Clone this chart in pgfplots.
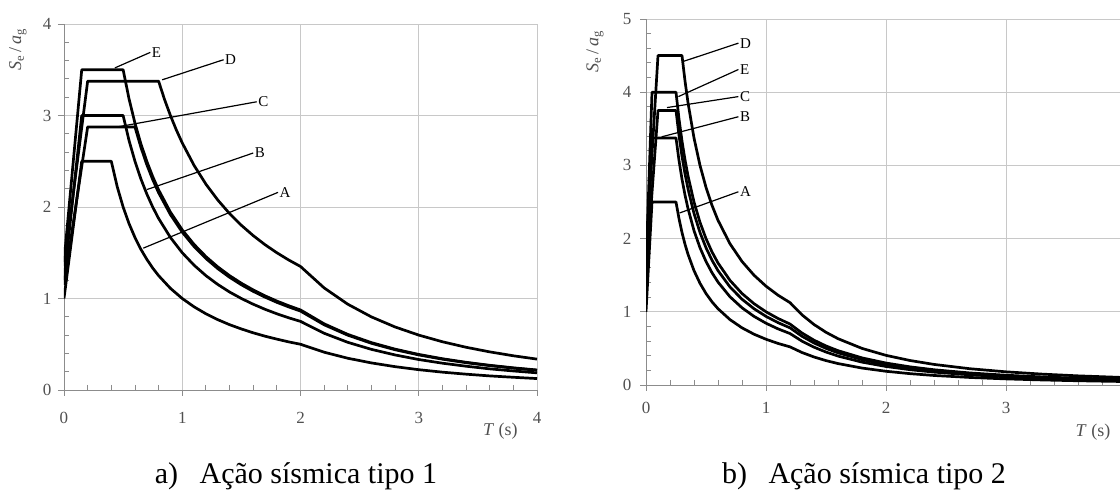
\documentclass[border=0pt]{standalone}
\usepackage{fontspec}
\setmainfont{Liberation Serif}
\usepackage{pgfplots}
\pgfplotsset{compat=1.18}

\definecolor{gridgray}{RGB}{200,200,200}
\definecolor{axgray}{RGB}{140,140,140}
\definecolor{txtgray}{RGB}{80,80,80}

\pgfplotsset{
  spec/.style={
    scale only axis,
    axis lines=left,
    axis line style={-, axgray, line width=0.9pt},
    grid=major,
    grid style={gridgray, line width=0.9pt},
    xmin=0, xmax=4, xtick={0,1,2,3,4},
    minor x tick num=4, minor y tick num=4,
    tick align=outside,
    major tick length=6pt, minor tick length=-5pt,
    tick style={axgray, line width=0.9pt},
    tick label style={font=\fontsize{17}{20}\selectfont, text=txtgray},
    /pgf/number format/assume math mode=true,
    clip mode=individual,
  },
  curve/.style={black, line width=2.7pt, line join=round},
}
\tikzset{lead/.style={black, line width=1.2pt}}
\newcommand{\lbl}{\fontsize{15}{17}\selectfont}
\newcommand{\axlbl}{\fontsize{18}{21}\selectfont}

\begin{document}
\begin{tikzpicture}
\useasboundingbox (0,0) rectangle (1120pt,490pt);

% ---- a) type 1 ----
\begin{axis}[spec, at={(64pt,100pt)}, anchor=south west,
  width=473pt, height=366pt, ymin=0, ymax=4, ytick={0,1,2,3,4},
  xticklabel style={yshift=-13pt}, yticklabel style={xshift=-3pt}]
% A
\addplot[curve] coordinates {
 (0,1) (0.15,2.5) (0.4,2.5) (0.45,2.222) (0.5,2.0) (0.55,1.818) (0.6,1.667)
 (0.65,1.538) (0.7,1.429) (0.75,1.333) (0.8,1.25) (0.9,1.111) (1.0,1.0)
 (1.1,0.909) (1.2,0.833) (1.3,0.769) (1.4,0.714) (1.5,0.667) (1.6,0.625)
 (1.7,0.588) (1.8,0.556) (1.9,0.526) (2.0,0.5) (2.2,0.413) (2.4,0.347)
 (2.6,0.296) (2.8,0.255) (3.0,0.222) (3.2,0.195) (3.4,0.173) (3.6,0.154)
 (3.8,0.139) (4.0,0.125)};
% B
\addplot[curve] coordinates {
 (0,1.2) (0.15,3.0) (0.5,3.0) (0.55,2.727) (0.6,2.5) (0.65,2.308) (0.7,2.143)
 (0.75,2.0) (0.8,1.875) (0.9,1.667) (1.0,1.5) (1.1,1.364) (1.2,1.25)
 (1.3,1.154) (1.4,1.071) (1.5,1.0) (1.6,0.9375) (1.7,0.882) (1.8,0.833)
 (1.9,0.789) (2.0,0.75) (2.2,0.620) (2.4,0.521) (2.6,0.444) (2.8,0.383)
 (3.0,0.333) (3.2,0.293) (3.4,0.260) (3.6,0.231) (3.8,0.208) (4.0,0.1875)};
% C
\addplot[curve] coordinates {
 (0,1.15) (0.2,2.875) (0.6,2.875) (0.65,2.654) (0.7,2.464) (0.75,2.3)
 (0.8,2.156) (0.9,1.917) (1.0,1.725) (1.1,1.568) (1.2,1.4375) (1.3,1.327)
 (1.4,1.232) (1.5,1.15) (1.6,1.078) (1.7,1.015) (1.8,0.958) (1.9,0.908)
 (2.0,0.8625) (2.2,0.7128) (2.4,0.599) (2.6,0.5104) (2.8,0.440) (3.0,0.3833)
 (3.2,0.3369) (3.4,0.2985) (3.6,0.2662) (3.8,0.2389) (4.0,0.2156)};
% D
\addplot[curve] coordinates {
 (0,1.35) (0.2,3.375) (0.8,3.375) (0.85,3.176) (0.9,3.0) (0.95,2.842)
 (1.0,2.7) (1.1,2.4545) (1.2,2.25) (1.3,2.077) (1.4,1.9286) (1.5,1.8)
 (1.6,1.6875) (1.7,1.588) (1.8,1.5) (1.9,1.421) (2.0,1.35) (2.2,1.1157)
 (2.4,0.9375) (2.6,0.7988) (2.8,0.6888) (3.0,0.6) (3.2,0.5273) (3.4,0.4671)
 (3.6,0.4167) (3.8,0.3740) (4.0,0.3375)};
% E
\addplot[curve] coordinates {
 (0,1.4) (0.15,3.5) (0.5,3.5) (0.55,3.182) (0.6,2.917) (0.65,2.692) (0.7,2.5)
 (0.75,2.333) (0.8,2.1875) (0.9,1.944) (1.0,1.75) (1.1,1.591) (1.2,1.458)
 (1.3,1.346) (1.4,1.25) (1.5,1.1667) (1.6,1.094) (1.7,1.029) (1.8,0.972)
 (1.9,0.921) (2.0,0.875) (2.2,0.7231) (2.4,0.6076) (2.6,0.5178) (2.8,0.4464)
 (3.0,0.3889) (3.2,0.3418) (3.4,0.3028) (3.6,0.2701) (3.8,0.2424) (4.0,0.21875)};

\draw[lead] (axis cs:0.43,3.52) -- (axis cs:0.73,3.69) node[right=-1pt, inner sep=2pt] {\lbl E};
\draw[lead] (axis cs:0.83,3.39) -- (axis cs:1.35,3.61) node[right=-1pt, inner sep=2pt] {\lbl D};
\draw[lead] (axis cs:0.43,2.87) -- (axis cs:1.63,3.15) node[right=-1pt, inner sep=2pt] {\lbl C};
\draw[lead] (axis cs:0.70,2.19) -- (axis cs:1.60,2.59) node[right=-1pt, inner sep=2pt] {\lbl B};
\draw[lead] (axis cs:0.67,1.55) -- (axis cs:1.81,2.16) node[right=-1pt, inner sep=2pt] {\lbl A};

\node[rotate=90, text=txtgray] at (axis cs:-0.39,3.72) {\axlbl\textit{S}\textsubscript{e}\,/\,\textit{a}\textsubscript{g}};
\node[text=txtgray] at (axis cs:3.69,-0.45) {\axlbl\textit{T}\ (s)};
\end{axis}

% ---- b) type 2 ----
\begin{axis}[spec, at={(646pt,105pt)}, anchor=south west,
  width=480pt, height=366pt, ymin=0, ymax=5, ytick={0,1,2,3,4,5},
  xticklabels={0,1,2,3,},
  xticklabel style={yshift=-8pt}, yticklabel style={xshift=-5pt}]
% A
\addplot[curve] coordinates {
 (0,1) (0.05,2.5) (0.25,2.5) (0.275,2.273) (0.3,2.083) (0.325,1.923)
 (0.35,1.786) (0.4,1.5625) (0.45,1.389) (0.5,1.25) (0.55,1.136) (0.6,1.042)
 (0.7,0.893) (0.8,0.781) (0.9,0.694) (1.0,0.625) (1.1,0.568) (1.2,0.521)
 (1.3,0.4438) (1.4,0.3827) (1.5,0.3333) (1.6,0.2930) (1.8,0.2315) (2.0,0.1875)
 (2.2,0.1550) (2.4,0.1302) (2.7,0.1029) (3.0,0.0833) (3.3,0.0689) (3.6,0.0579)
 (4.0,0.0469)};
% B
\addplot[curve] coordinates {
 (0,1.35) (0.05,3.375) (0.25,3.375) (0.275,3.068) (0.3,2.8125) (0.325,2.596)
 (0.35,2.411) (0.4,2.109) (0.45,1.875) (0.5,1.6875) (0.55,1.534) (0.6,1.406)
 (0.7,1.205) (0.8,1.055) (0.9,0.9375) (1.0,0.844) (1.1,0.767) (1.2,0.703)
 (1.3,0.5991) (1.4,0.5166) (1.5,0.45) (1.6,0.3955) (1.8,0.3125) (2.0,0.2531)
 (2.2,0.2092) (2.4,0.1758) (2.7,0.1389) (3.0,0.1125) (3.3,0.0930) (3.6,0.0781)
 (4.0,0.0633)};
% C
\addplot[curve] coordinates {
 (0,1.5) (0.1,3.75) (0.25,3.75) (0.275,3.409) (0.3,3.125) (0.325,2.885)
 (0.35,2.679) (0.4,2.344) (0.45,2.083) (0.5,1.875) (0.55,1.705) (0.6,1.5625)
 (0.7,1.339) (0.8,1.172) (0.9,1.042) (1.0,0.9375) (1.1,0.852) (1.2,0.781)
 (1.3,0.6657) (1.4,0.5740) (1.5,0.5) (1.6,0.4395) (1.8,0.3472) (2.0,0.28125)
 (2.2,0.2324) (2.4,0.1953) (2.7,0.1543) (3.0,0.125) (3.3,0.1033) (3.6,0.0868)
 (4.0,0.0703)};
% D
\addplot[curve] coordinates {
 (0,1.8) (0.1,4.5) (0.3,4.5) (0.325,4.154) (0.35,3.857) (0.4,3.375)
 (0.45,3.0) (0.5,2.7) (0.55,2.4545) (0.6,2.25) (0.7,1.929) (0.8,1.6875)
 (0.9,1.5) (1.0,1.35) (1.1,1.227) (1.2,1.125) (1.3,0.9586) (1.4,0.8265)
 (1.5,0.72) (1.6,0.6328) (1.8,0.5) (2.0,0.405) (2.2,0.3347) (2.4,0.28125)
 (2.7,0.2222) (3.0,0.18) (3.3,0.1488) (3.6,0.125) (4.0,0.10125)};
% E
\addplot[curve] coordinates {
 (0,1.6) (0.05,4.0) (0.25,4.0) (0.275,3.636) (0.3,3.333) (0.325,3.077)
 (0.35,2.857) (0.4,2.5) (0.45,2.222) (0.5,2.0) (0.55,1.818) (0.6,1.667)
 (0.7,1.429) (0.8,1.25) (0.9,1.111) (1.0,1.0) (1.1,0.909) (1.2,0.833)
 (1.3,0.7101) (1.4,0.6122) (1.5,0.5333) (1.6,0.4688) (1.8,0.3704) (2.0,0.3)
 (2.2,0.2479) (2.4,0.2083) (2.7,0.1646) (3.0,0.1333) (3.3,0.1102) (3.6,0.0926)
 (4.0,0.075)};

\draw[lead] (axis cs:0.31,4.42) -- (axis cs:0.77,4.67) node[right=-1pt, inner sep=2pt] {\lbl D};
\draw[lead] (axis cs:0.27,3.94) -- (axis cs:0.77,4.31) node[right=-1pt, inner sep=2pt] {\lbl E};
\draw[lead] (axis cs:0.175,3.79) -- (axis cs:0.77,3.94) node[right=-1pt, inner sep=2pt] {\lbl C};
\draw[lead] (axis cs:0.13,3.39) -- (axis cs:0.77,3.665) node[right=-1pt, inner sep=2pt] {\lbl B};
\draw[lead] (axis cs:0.28,2.35) -- (axis cs:0.77,2.64) node[right=-1pt, inner sep=2pt] {\lbl A};

\node[rotate=90, text=txtgray] at (axis cs:-0.425,4.55) {\axlbl\textit{S}\textsubscript{e}\,/\,\textit{a}\textsubscript{g}};
\node[text=txtgray] at (axis cs:3.725,-0.64) {\axlbl\textit{T}\ (s)};
\end{axis}

\node[anchor=base, inner sep=0pt] at (296pt,6pt) {\fontsize{30}{34}\selectfont a)\hspace{14pt} Ação sísmica tipo 1};
\node[anchor=base, inner sep=0pt] at (864pt,6pt) {\fontsize{30}{34}\selectfont b)\hspace{14pt} Ação sísmica tipo 2};
\end{tikzpicture}
\end{document}
